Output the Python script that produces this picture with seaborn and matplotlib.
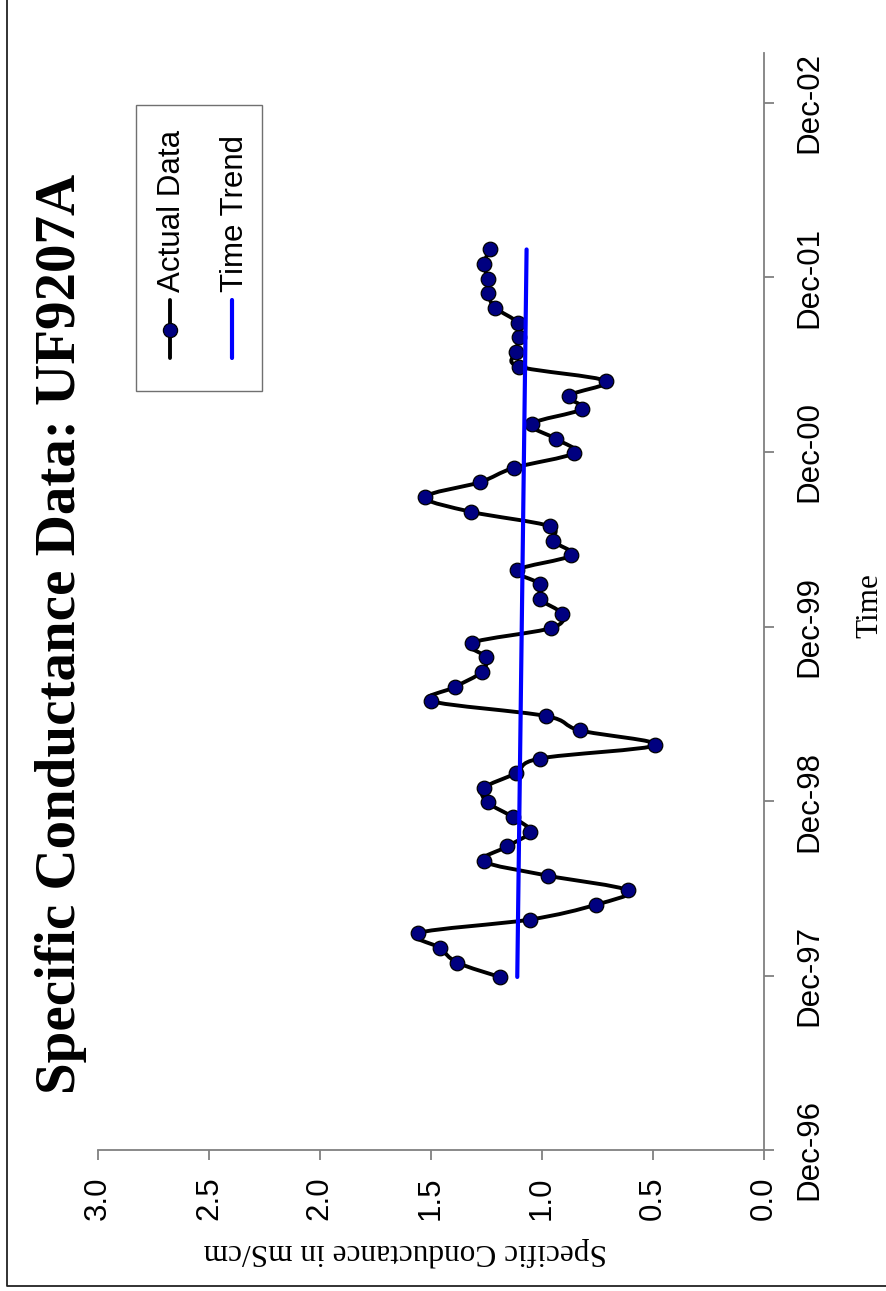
import numpy as np
import pandas as pd
import matplotlib
matplotlib.use("Agg")
import matplotlib.pyplot as plt
import matplotlib.dates as mdates
import seaborn as sns
from matplotlib.path import Path
from matplotlib.patches import PathPatch, Rectangle
from matplotlib.lines import Line2D

# ---------------- data ----------------
sample_dates = [
    "1997-11-28", "1997-12-28",
    "1998-01-28", "1998-02-28", "1998-03-28", "1998-04-28", "1998-05-28", "1998-06-28",
    "1998-07-28", "1998-08-28", "1998-09-28", "1998-10-28", "1998-11-28", "1998-12-28",
    "1999-01-28", "1999-02-28", "1999-03-28", "1999-04-28", "1999-05-28", "1999-06-28",
    "1999-07-28", "1999-08-28", "1999-09-28", "1999-10-28", "1999-11-28", "1999-12-28",
    "2000-01-28", "2000-02-28", "2000-03-28", "2000-04-28", "2000-05-28", "2000-06-28",
    "2000-07-28", "2000-08-28", "2000-09-28", "2000-10-28", "2000-11-28", "2000-12-28",
    "2001-01-28", "2001-02-28", "2001-03-28", "2001-04-28", "2001-05-28", "2001-06-28",
    "2001-07-28", "2001-08-28", "2001-09-28", "2001-10-28", "2001-11-28", "2001-12-28",
    "2002-01-28",
]
conductance = [
    1.189, 1.380,
    1.460, 1.556, 1.054, 0.757, 0.612, 0.973,
    1.261, 1.155, 1.053, 1.128, 1.243, 1.261,
    1.117, 1.009, 0.487, 0.829, 0.982, 1.497,
    1.389, 1.270, 1.252, 1.315, 0.957, 0.910,
    1.009, 1.008, 1.112, 0.867, 0.949, 0.964,
    1.317, 1.524, 1.279, 1.126, 0.855, 0.937,
    1.045, 0.820, 0.877, 0.712, 1.103, 1.117,
    1.100, 1.108, 1.209, 1.243, 1.243, 1.260,
    1.234,
]
trend_dates = ["1997-11-28", "2002-01-28"]
trend_values = [1.110, 1.068]

cond_ticks = [0.0, 0.5, 1.0, 1.5, 2.0, 2.5, 3.0]
time_ticks = ["1996-12-01", "1997-12-01", "1998-12-01", "1999-12-01",
              "2000-12-01", "2001-12-01", "2002-12-01"]
time_tick_labels = ["Dec-96", "Dec-97", "Dec-98", "Dec-99", "Dec-00", "Dec-01", "Dec-02"]
time_limits = ["1996-12-01", "2003-03-15"]

title_text = "Specific Conductance Data: UF9207A"
cond_label = "Specific Conductance in mS/cm"
time_label = "Time"
legend_labels = ["Actual Data", "Time Trend"]

# ---------------- figure ----------------
sns.set_theme(style="white")
plt.rcParams["font.family"] = ["Liberation Sans", "DejaVu Sans"]
plt.rcParams["text.color"] = "black"
plt.rcParams["axes.labelcolor"] = "black"
plt.rcParams["xtick.color"] = "black"
plt.rcParams["ytick.color"] = "black"

W, H = 886, 1291
fig = plt.figure(figsize=(W / 100, H / 100), dpi=100)
fig.patch.set_facecolor("white")

ax_left, ax_right, ax_top, ax_bottom = 98, 763.5, 53, 1150
ax = fig.add_axes([ax_left / W, 1 - ax_bottom / H,
                   (ax_right - ax_left) / W, (ax_bottom - ax_top) / H])
ax.set_facecolor("white")

df = pd.DataFrame({"date": pd.to_datetime(sample_dates), "cond": conductance})
tdf = pd.DataFrame({"date": pd.to_datetime(trend_dates), "cond": trend_values})

# smooth connecting line (Catmull-Rom style Bezier through the data points)
ynum = mdates.date2num(df["date"])
pts = np.column_stack([df["cond"].to_numpy(), ynum])
n = len(pts)
verts = [pts[0]]
codes = [Path.MOVETO]
for i in range(n - 1):
    p0 = pts[i - 1] if i > 0 else pts[i]
    p1 = pts[i]
    p2 = pts[i + 1]
    p3 = pts[i + 2] if i + 2 < n else pts[i + 1]
    verts += [p1 + (p2 - p0) / 6.0, p2 - (p3 - p1) / 6.0, p2]
    codes += [Path.CURVE4] * 3

sns.scatterplot(data=df, x="cond", y="date", ax=ax, s=110, color="#000080",
                edgecolor="black", linewidth=0.9, zorder=4, legend=False)
ax.add_patch(PathPatch(Path(verts, codes), facecolor="none", edgecolor="black",
                       lw=2.8, zorder=3, capstyle="round", joinstyle="round"))
ax.plot(tdf["cond"], mdates.date2num(tdf["date"]), color="#0000FF", lw=3.0, zorder=5)

ax.set_xlim(3.0, 0.0)
ax.set_ylim(mdates.date2num(pd.to_datetime(time_limits[0])),
            mdates.date2num(pd.to_datetime(time_limits[1])))

for s in ["top", "left"]:
    ax.spines[s].set_visible(False)
for s in ["bottom", "right"]:
    ax.spines[s].set_visible(True)
    ax.spines[s].set_color("#808080")
    ax.spines[s].set_linewidth(1.3)

ax.yaxis.tick_right()
ax.set_xticks(cond_ticks)
ax.set_xticklabels([f"{v:.1f}" for v in cond_ticks], rotation=90, fontsize=22.5,
                   ha="center", va="top", color="black")
ax.set_yticks(mdates.date2num(pd.to_datetime(time_ticks)))
ax.set_yticklabels(time_tick_labels, rotation=90, fontsize=22.5, ha="left", va="center",
                   color="black")
ax.tick_params(axis="both", direction="out", length=7.2, width=1.3, color="#808080",
               labelcolor="black", bottom=True, right=True, left=False, top=False)
ax.tick_params(axis="x", pad=12)
ax.tick_params(axis="y", pad=15)
ax.grid(False)

ax.set_xlabel(cond_label, fontsize=22.5, family=["Liberation Serif", "DejaVu Serif"],
              color="black")
ax.xaxis.label.set(rotation=180, rotation_mode="anchor", ha="center", va="baseline")
ax.xaxis.set_label_coords((405 - ax_left) / (ax_right - ax_left),
                          (ax_bottom - 1244) / (ax_bottom - ax_top))
ax.yaxis.set_label_position("right")
ax.set_ylabel(time_label, fontsize=22.5, family=["Liberation Serif", "DejaVu Serif"],
              color="black")
ax.yaxis.label.set(rotation=90, rotation_mode="anchor", ha="center", va="baseline")
ax.yaxis.set_label_coords((877 - ax_left) / (ax_right - ax_left),
                          (ax_bottom - 606) / (ax_bottom - ax_top))

# ---------------- overlay in pixel coordinates ----------------
ov = fig.add_axes([0, 0, 1, 1], zorder=10)
ov.set_xlim(0, W)
ov.set_ylim(H, 0)
ov.axis("off")

# outer frame
ov.add_line(Line2D([7.5, 7.5, W + 5], [-5, 1286, 1286], color="#222222", lw=1.3))

# title
ov.text(75, 634, title_text, rotation=90, rotation_mode="anchor", ha="center",
        va="baseline", fontsize=41, fontweight="bold",
        family=["Liberation Serif", "DejaVu Serif"], color="black")

# legend
ov.add_patch(Rectangle((136, 105), 126, 286, facecolor="white", edgecolor="#707070", lw=1.0))
ov.add_line(Line2D([170, 170], [300, 358], color="black", lw=2.8))
ov.add_line(Line2D([170], [330], marker="o", markersize=10.2, markerfacecolor="#000080",
                   markeredgecolor="black", markeredgewidth=0.9, linestyle="none"))
ov.add_line(Line2D([232, 232], [300, 358], color="#0000FF", lw=3.0))
ov.text(180, 211, legend_labels[0], rotation=90, rotation_mode="anchor", ha="center",
        va="baseline", fontsize=22.5, color="black")
ov.text(243, 213, legend_labels[1], rotation=90, rotation_mode="anchor", ha="center",
        va="baseline", fontsize=22.5, color="black")

fig.savefig("out.png", dpi=100, facecolor="white")
